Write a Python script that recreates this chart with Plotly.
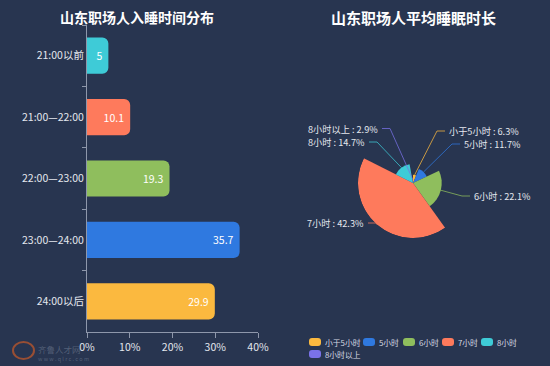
import math
import plotly.graph_objects as go

W, H = 550, 366
BG = '#283550'
FONT = 'Noto Sans CJK SC, Noto Sans, sans-serif'

# ---------------- data ----------------
bar_categories = ['21:00以前', '21:00—22:00', '22:00—23:00', '23:00—24:00', '24:00以后']
bar_values = [5, 10.1, 19.3, 35.7, 29.9]
bar_colors = ['#3ecbd7', '#fe7a5c', '#8fbe5d', '#2f79e0', '#fbb93f']
bar_ticks = [0, 10, 20, 30, 40]

rose_labels = ['小于5小时', '5小时', '6小时', '7小时', '8小时', '8小时以上']
rose_values = [6.3, 11.7, 22.1, 42.3, 14.7, 2.9]
rose_colors = ['#fbb93f', '#2f79e0', '#8fbe5d', '#fe7a5c', '#3ecbd7', '#7a72e8']

title_left = '山东职场人入睡时间分布'
title_right = '山东职场人平均睡眠时长'

# ---------------- layout helpers (pixel -> paper) ----------------
def px(x):
    return x / W

def py(y):
    return 1 - y / H

fig = go.Figure()

# ---------------- bar chart ----------------
fig.add_trace(go.Bar(
    orientation='h',
    y=bar_categories,
    x=bar_values,
    marker=dict(color=bar_colors, line=dict(width=0)),
    width=0.59,
    text=[f'{v:g}' for v in bar_values],
    textposition='inside',
    insidetextanchor='end',
    textfont=dict(color='white', size=10.5, family=FONT),
    hoverinfo='skip',
    showlegend=False,
    xaxis='x', yaxis='y',
))

# ---------------- rose chart ----------------
total = sum(rose_values)
angles = [v / total * 360 for v in rose_values]
centers = []
acc = 0
for a in angles:
    centers.append(acc + a / 2)
    acc += a
vmax = max(rose_values)

for lab, v, th, w, c in zip(rose_labels, rose_values, centers, angles, rose_colors):
    fig.add_trace(go.Barpolar(
        r=[v], theta=[th], width=[w],
        marker=dict(color=c, line=dict(width=0)),
        name=lab, hoverinfo='skip', showlegend=False,
    ))

cx, cy, R = 413, 183, 55

# label leader lines and texts
label_elbows = [(437, 131), (452, 144), (462, 196), (376, 223), (377, 142), (390, 128.5)]
label_side = [1, 1, 1, -1, -1, -1]
seg2 = 8
shapes = []
annotations = []
for lab, v, th, c, (ex, ey), s in zip(rose_labels, rose_values, centers, rose_colors,
                                      label_elbows, label_side):
    phi = math.radians(90 - th)
    r_px = v / vmax * R
    sx = cx + r_px * math.cos(phi)
    sy = cy - r_px * math.sin(phi)
    endx = ex + s * seg2
    shapes.append(dict(
        type='path', xref='paper', yref='paper',
        path=f'M {px(sx)} {py(sy)} L {px(ex)} {py(ey)} L {px(endx)} {py(ey)}',
        line=dict(color=c, width=1), opacity=0.75, layer='above',
    ))
    pct = f'{v:g}%'
    annotations.append(dict(
        x=px(endx + s * 2), y=py(ey), xref='paper', yref='paper',
        text=f'{lab} : {pct}', showarrow=False,
        xanchor='left' if s > 0 else 'right', yanchor='middle',
        font=dict(size=9.2, color='#e4e7ee', family=FONT),
    ))

# manual legend
legend_x = [309, 363, 403, 442, 481, 309]
legend_y = [342, 342, 342, 342, 342, 354]
iw, ih, rr = 12, 8, 3
for lab, c, lx, ly in zip(rose_labels, rose_colors, legend_x, legend_y):
    x0, x1 = lx, lx + iw
    y0, y1 = ly - ih / 2, ly + ih / 2
    path = (f'M {px(x0 + rr)} {py(y0)} L {px(x1 - rr)} {py(y0)} '
            f'Q {px(x1)} {py(y0)} {px(x1)} {py(y0 + rr)} L {px(x1)} {py(y1 - rr)} '
            f'Q {px(x1)} {py(y1)} {px(x1 - rr)} {py(y1)} L {px(x0 + rr)} {py(y1)} '
            f'Q {px(x0)} {py(y1)} {px(x0)} {py(y1 - rr)} L {px(x0)} {py(y0 + rr)} '
            f'Q {px(x0)} {py(y0)} {px(x0 + rr)} {py(y0)} Z')
    shapes.append(dict(type='path', xref='paper', yref='paper', path=path,
                       fillcolor=c, line=dict(width=0), layer='above'))
    annotations.append(dict(
        x=px(x1 + 2), y=py(ly), xref='paper', yref='paper', text=lab,
        showarrow=False, xanchor='left', yanchor='middle',
        font=dict(size=7.8, color='#d6dae3', family=FONT),
    ))

# titles
annotations.append(dict(x=px(137), y=py(17), xref='paper', yref='paper',
                        text=f'<b>{title_left}</b>', showarrow=False,
                        xanchor='center', yanchor='middle',
                        font=dict(size=14, color='white', family=FONT)))
annotations.append(dict(x=px(413), y=py(17), xref='paper', yref='paper',
                        text=f'<b>{title_right}</b>', showarrow=False,
                        xanchor='center', yanchor='middle',
                        font=dict(size=15, color='white', family=FONT)))

# watermark
annotations.append(dict(x=px(36), y=py(349), xref='paper', yref='paper',
                        text='齐鲁人才网', showarrow=False, xanchor='left', yanchor='middle',
                        font=dict(size=8.5, color='rgba(150,160,180,0.4)', family=FONT)))
annotations.append(dict(x=px(36), y=py(359), xref='paper', yref='paper',
                        text='w w w . q l r c . c o m', showarrow=False, xanchor='left',
                        yanchor='middle',
                        font=dict(size=5.5, color='rgba(150,160,180,0.4)', family=FONT)))
shapes.append(dict(type='circle', xref='paper', yref='paper',
                   x0=px(13), x1=px(34), y0=py(359), y1=py(342),
                   line=dict(color='rgba(200,90,40,0.7)', width=2),
                   fillcolor='rgba(0,0,0,0)'))

axis_col = '#8e97ab'
fig.update_layout(
    template='none',
    width=W, height=H,
    margin=dict(l=0, r=0, t=0, b=0, pad=0),
    paper_bgcolor=BG, plot_bgcolor=BG,
    font=dict(family=FONT, color='#e4e7ee'),
    barcornerradius=6,
    showlegend=False,
    xaxis=dict(domain=[px(87), px(258)], range=[0, 40], tickvals=bar_ticks,
               ticktext=[f'{t}%' for t in bar_ticks], showgrid=False, zeroline=False,
               showline=True, linecolor=axis_col, linewidth=1, automargin=False,
               ticks='outside', ticklen=5, tickcolor=axis_col,
               tickfont=dict(size=10.5, color='#e4e7ee'), anchor='y', fixedrange=True),
    yaxis=dict(domain=[py(332), py(25)], autorange='reversed', showgrid=False,
               zeroline=False, showline=True, linecolor=axis_col, linewidth=1,
               automargin=False,
               ticks='outside', ticklen=4, tickcolor=axis_col, tickson='boundaries',
               tickfont=dict(size=10.5, color='#e4e7ee'), anchor='x', fixedrange=True),
    polar=dict(
        domain=dict(x=[px(cx - R), px(cx + R)], y=[py(cy + R), py(cy - R)]),
        bgcolor='rgba(0,0,0,0)', bargap=0, hole=0,
        radialaxis=dict(range=[0, vmax], visible=False),
        angularaxis=dict(rotation=90, direction='clockwise', visible=False),
    ),
    shapes=shapes,
    annotations=annotations,
)

fig.write_html('out.html', config={'displayModeBar': False},
               post_script="document.body.style.margin='0';document.body.style.background='" + BG + "';")
